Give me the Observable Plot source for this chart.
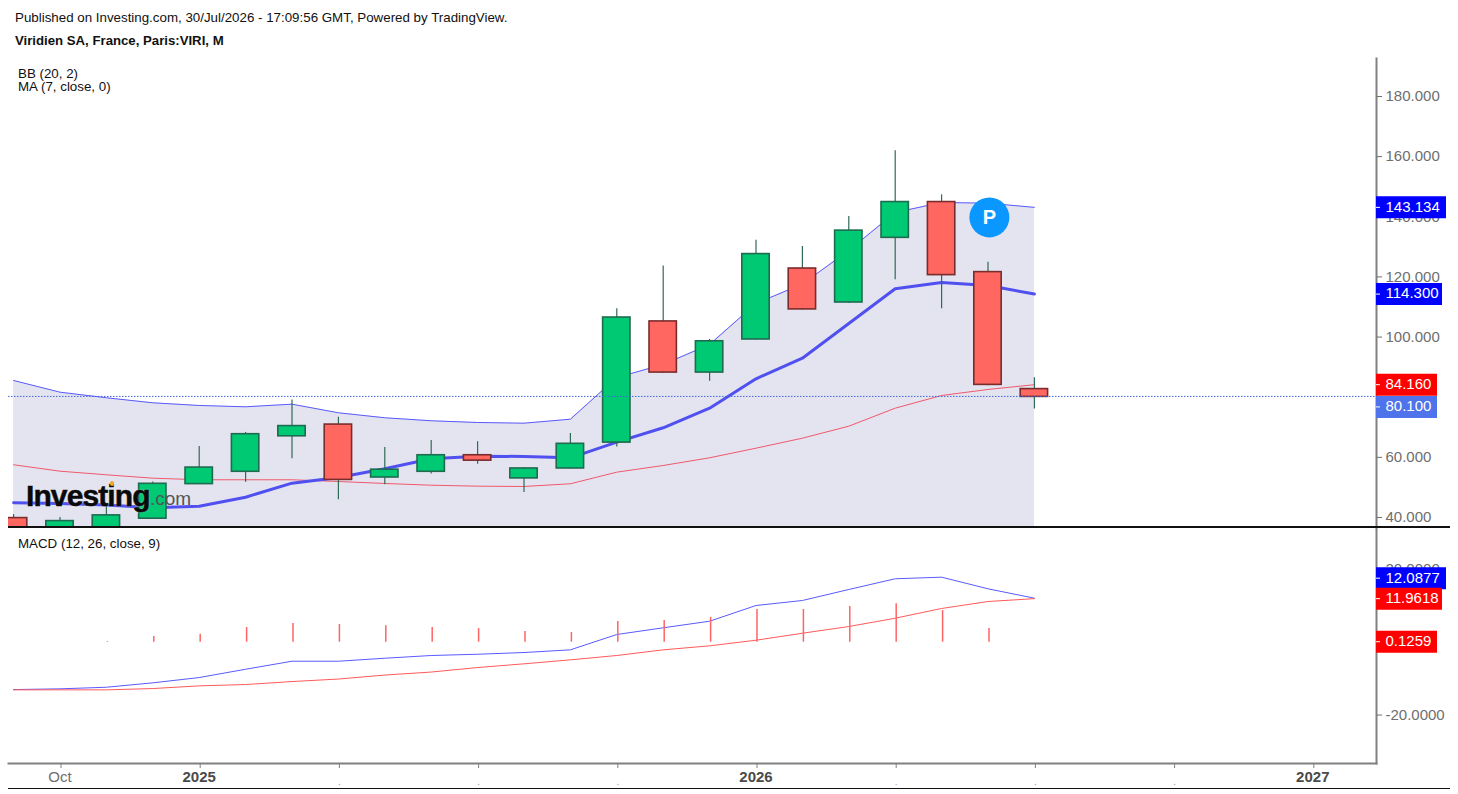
<!DOCTYPE html>
<html><head><meta charset="utf-8">
<script src="https://cdn.jsdelivr.net/npm/d3@7"></script>
<script src="https://cdn.jsdelivr.net/npm/@observablehq/plot@0.6"></script>
<style>
html,body{margin:0;padding:0;background:#fff;width:1458px;height:794px;overflow:hidden;font-family:"Liberation Sans",Arial,sans-serif;}
#page{position:relative;width:1458px;height:794px;}
.t{position:absolute;white-space:pre;color:#111;line-height:1;}
.rule{position:absolute;left:8px;width:1442px;height:1.6px;background:#111;}
.plot{position:absolute;left:0;}
.plot svg{display:block;}
</style></head><body>
<div id="page">
  <div id="priceChart" class="plot" style="top:58px"></div>
  <div id="macdChart" class="plot" style="top:527px"></div>
  <div class="rule" style="top:526px"></div>
  <div class="rule" style="top:787.5px"></div>
  <div class="t" style="left:15px;top:11px;font-size:13.33px">Published on Investing.com, 30/Jul/2026 - 17:09:56 GMT, Powered by TradingView.</div>
  <div class="t" style="left:15px;top:34px;font-size:13.2px;font-weight:bold">Viridien SA, France, Paris:VIRI, M</div>
  <div class="t" style="left:18px;top:67px;font-size:13.33px">BB (20, 2)</div>
  <div class="t" style="left:18px;top:80px;font-size:13.33px">MA (7, close, 0)</div>
  <div class="t" style="left:18px;top:537px;font-size:13.33px">MACD (12, 26, close, 9)</div>
  <div class="t" style="left:26px;top:480.5px;font-size:30px;font-weight:bold;letter-spacing:-.9px;color:#0a0a0a;-webkit-text-stroke:.5px #0a0a0a;text-shadow:0 0 2px rgba(255,255,255,.6)">Investing</div>
  <div class="t" style="left:150px;top:489px;font-size:19px;color:#555">.com</div>
  <div style="position:absolute;left:110px;top:481px;width:4px;height:5px;border-radius:3px;background:#f5a623"></div>
</div>
<script>
// Monthly bars, Sep 2024 to Jul 2026 (index -1 to 21, 0 = Oct 2024)
const months = d3.range(-1, 22);
const opens  = [39.8, 33.0, 35.0, 39.6, 51.1, 55.2, 67.0, 70.9, 53.3, 55.2, 60.7, 53.0, 56.3, 64.9, 105.2, 88.2, 99.2, 122.8, 111.5, 133.0, 144.9, 121.6, 82.7];
const highs  = [41.0, 40.0, 44.0, 51.8, 63.6, 68.3, 79.1, 73.3, 63.3, 65.6, 65.2, 56.5, 67.9, 109.4, 123.6, 99.2, 132.2, 130.1, 140.1, 162.0, 147.3, 124.9, 86.5];
const lows   = [33.0, 32.0, 33.0, 39.4, 51.1, 51.7, 59.5, 45.9, 50.9, 54.5, 57.7, 48.3, 56.1, 63.4, 88.0, 85.3, 99.0, 109.0, 111.2, 119.1, 109.4, 83.8, 76.1];
const closes = [34.0, 38.8, 40.7, 51.2, 56.6, 67.7, 70.4, 52.5, 55.9, 60.7, 58.9, 56.3, 64.5, 106.5, 88.2, 98.6, 127.6, 109.2, 135.4, 144.9, 120.6, 84.1, 80.1];

const bbUpper = [85.56, 81.67, 79.81, 78.14, 77.25, 76.81, 77.68, 74.82, 73.16, 72.16, 71.59, 71.36, 72.69, 86.56, 90.88, 97.53, 111.17, 117.65, 128.79, 141.43, 144.76, 144.52, 143.134];
const bbLower = [57.53, 55.4, 54.2, 53.07, 52.54, 52.54, 52.54, 51.97, 51.31, 50.74, 50.41, 50.31, 51.21, 55.07, 57.29, 59.85, 63.05, 66.37, 70.36, 76.35, 80.57, 82.57, 84.16];
const ma7     = [44.89, 44.66, 44.16, 43.23, 43.76, 46.75, 51.41, 53.3, 56.2, 59.52, 60.39, 60.29, 59.85, 65.04, 69.83, 76.35, 86.13, 92.98, 104.52, 116.06, 118.15, 117.15, 114.3];

const macdLine   = [-13.0, -12.8, -12.36, -11.15, -9.7, -7.42, -5.22, -5.22, -4.4, -3.65, -3.3, -2.83, -2.09, 2.12, 3.96, 5.77, 10.08, 11.46, 14.48, 17.42, 17.86, 14.67, 12.0877];
const macdSignal = [-13.08, -13.08, -13.08, -12.72, -11.98, -11.62, -10.8, -10.11, -9.01, -8.19, -6.95, -5.93, -4.84, -3.65, -2.09, -0.99, 0.55, 2.47, 4.31, 6.59, 9.26, 11.18, 11.9618];
const macdHist   = [0, 0, 0.19, 1.57, 2.2, 4.04, 5.14, 4.86, 4.5, 4.04, 3.76, 2.94, 2.66, 5.69, 5.96, 6.79, 8.98, 8.98, 9.81, 10.55, 8.71, 3.76, 0.1259];

const priceTicks = [40, 60, 80, 100, 120, 140, 160, 180];
const hiddenPriceTicks = [80];
const macdTicks  = [-20, 0, 20];
const hiddenMacdTicks = [0];
const timeTicks  = [0, 3, 6, 9, 12, 15, 18, 21, 24, 27];
const namedTicks = [[0, "Oct"]];
const yearTicks  = [[3, "2025"], [15, "2026"], [27, "2027"]];
const dotTicks   = [6, 9, 12, 18, 21, 24];
const pinIndex = 20.03, pinPrice = 139.8;

const WIDTH = 1458;
const FONT = '"Liberation Sans", Arial, sans-serif';
const xOpts = {domain: [-1.1099, 28.373], axis: null};
const base = {width: WIDTH, marginLeft: 8, marginRight: 82, marginTop: 0,
  style: {fontFamily: FONT, fontSize: "15px", background: "transparent", overflow: "visible"}};
const xMax = xOpts.domain[1];
const perPx = 1 / 46.4;

const bars = months.map((m, k) => ({m, o: opens[k], h: highs[k], l: lows[k], c: closes[k], up: closes[k] >= opens[k]}));
const series = (arr) => months.map((m, k) => ({m, v: arr[k]}));
const halfBody = 0.295;

function tag(value, text, fill, w, shift) {
  return [
    Plot.ruleY([value], {x1: xMax, x2: xMax + w * perPx, stroke: fill, strokeWidth: 22, dy: shift}),
    Plot.ruleY([value], {x1: xMax, x2: xMax + 4 * perPx, stroke: "#fff", strokeWidth: 1, dy: shift}),
    Plot.text([text], {x: () => xMax, y: () => value, dx: 9, dy: shift - 0.5, textAnchor: "start", fill: "#fff", fontSize: 15})
  ];
}

const priceChart = Plot.plot({...base, height: 469, marginBottom: 0,
  x: xOpts,
  y: {domain: [36.67, 192.64], axis: null},
  marks: [
    Plot.areaY(series(bbUpper), {x: "m", y1: () => 30, y2: "v", fill: "#e4e4f0", clip: true}),
    Plot.lineY(series(bbUpper), {x: "m", y: "v", stroke: "#5a5aff", strokeWidth: 1, clip: true}),
    Plot.lineY(series(bbLower), {x: "m", y: "v", stroke: "#f0596a", strokeWidth: 1, clip: true}),
    Plot.lineY(series(ma7), {x: "m", y: "v", stroke: "#5050f0", strokeWidth: 3, clip: true}),
    Plot.ruleX(bars, {x: "m", y1: "l", y2: "h", stroke: "#2f6b55", strokeWidth: 1.2, clip: true}),
    Plot.rect(bars, {x1: d => d.m - halfBody, x2: d => d.m + halfBody, y1: "o", y2: "c",
      fill: d => d.up ? "#00c973" : "#ff6760", stroke: d => d.up ? "#1e6b50" : "#7a2c2c", strokeWidth: 1.6, clip: true}),
    Plot.ruleY([80.1], {stroke: "#3f66dd", strokeWidth: 1, strokeDasharray: "1.5 1.5", dy: -0.5}),
    Plot.dot([0], {x: () => pinIndex, y: () => pinPrice, r: 20, fill: "#0a97ff"}),
    Plot.text(["P"], {x: () => pinIndex, y: () => pinPrice, fill: "#fff", fontWeight: "bold", fontSize: 20}),
    Plot.frame({anchor: "right", stroke: "#808080", strokeWidth: 2}),
    Plot.axisY(priceTicks, {anchor: "right", tickSize: 5, tickPadding: 4, color: "#6e6e6e",
      tickFormat: d => hiddenPriceTicks.includes(d) ? "" : d3.format(".3f")(d), label: null}),
    ...tag(143.134, "143.134", "#0000ff", 70, 0),
    ...tag(114.3, "114.300", "#0000ff", 66, 0),
    ...tag(84.16, "84.160", "#ff0000", 61, 0),
    ...tag(80.1, "80.100", "#4f73ea", 61, 10)
  ]
});
document.getElementById("priceChart").append(priceChart);

const macdChart = Plot.plot({...base, height: 262, marginBottom: 26,
  x: xOpts,
  y: {domain: [-33.3, 31.5], axis: null},
  marks: [
    Plot.lineY(series(macdLine), {x: "m", y: "v", stroke: "#5a5aff", strokeWidth: 1}),
    Plot.lineY(series(macdSignal), {x: "m", y: "v", stroke: "#ff5a5a", strokeWidth: 1}),
    Plot.ruleX(series(macdHist).filter(d => d.v > 0.15), {x: "m", y1: () => 0, y2: "v", dx: 1, stroke: "#ff6464", strokeWidth: 1.5}),
    Plot.frame({anchor: "right", stroke: "#808080", strokeWidth: 2}),
    Plot.frame({anchor: "bottom", stroke: "#808080", strokeWidth: 2}),
    Plot.axisY(macdTicks, {anchor: "right", tickSize: 5, tickPadding: 4, color: "#6e6e6e",
      tickFormat: d => hiddenMacdTicks.includes(d) ? "" : d.toFixed(4), label: null}),
    Plot.axisX(timeTicks, {anchor: "bottom", tickSize: 5, tickPadding: 0, color: "#808080", tickFormat: () => "", dx: 1, label: null}),
    Plot.text(namedTicks, {x: d => d[0], text: d => d[1], frameAnchor: "bottom", lineAnchor: "middle", dy: 14, fill: "#6e6e6e", fontSize: 15}),
    Plot.text(yearTicks, {x: d => d[0], text: d => d[1], frameAnchor: "bottom", lineAnchor: "middle", dy: 14, fill: "#4a4a4a", fontWeight: "bold", fontSize: 15}),
    Plot.text(dotTicks, {x: d => d, text: () => ".", frameAnchor: "bottom", dy: 21, dx: 1, fill: "#999", fontSize: 10}),
    ...tag(12.0877, "12.0877", "#0000ff", 70, -20),
    ...tag(11.9618, "11.9618", "#ff0000", 66, 0),
    ...tag(0.1259, "0.1259", "#ff0000", 61, 0)
  ]
});
document.getElementById("macdChart").append(macdChart);
</script>
</body></html>
